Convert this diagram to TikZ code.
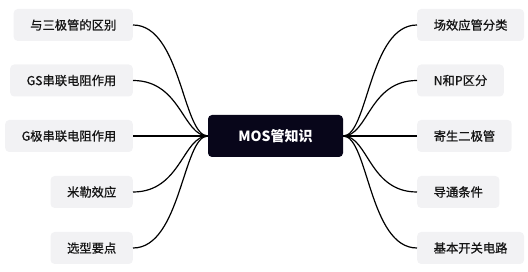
\documentclass[tikz,border=0pt]{standalone}
\usepackage{fontspec}
\setmainfont{Noto Sans CJK SC}
\newfontfamily\leaffont{Noto Sans CJK SC}[FakeBold=0.7]
\usepackage{xcolor}
\usepackage{tikz}
\usetikzlibrary{positioning}

\definecolor{leaffill}{RGB}{242,242,244}
\definecolor{rootfill}{RGB}{8,6,26}
\definecolor{leaftext}{RGB}{20,20,20}

\tikzset{
  leaf/.style={fill=leaffill,rounded corners=4pt,inner xsep=16.5pt,inner ysep=0pt,
    minimum height=32pt,text=leaftext,font=\leaffont\fontsize{12.3}{14}\selectfont},
  root/.style={fill=rootfill,rounded corners=4pt,minimum width=135pt,minimum height=42pt,
    text=white,font=\fontsize{14}{16}\selectfont\bfseries},
  link/.style={line width=1.2pt,black}
}

\begin{document}
\begin{tikzpicture}[x=1pt,y=-1pt]
\useasboundingbox (0,0) rectangle (528,272);
% centre
\node[root] (mos) at (275.5,136) {MOS管知识};
% left branches
\foreach \y/\t [count=\i] in {25/与三极管的区别,80.5/GS串联电阻作用,136/G极串联电阻作用,192/米勒效应,248/选型要点}
  \node[leaf,anchor=east] (l\i) at (133,\y) {\t};
% right branches
\foreach \y/\t [count=\i] in {25/场效应管分类,80.5/N和P区分,136/寄生二极管,192/导通条件,248/基本开关电路}
  \node[leaf,anchor=west] (r\i) at (417,\y) {\t};
% connectors
\foreach \i in {1,...,5} {
  \draw[link] (l\i.east) .. controls +(48,0) and +(-25,0) .. (mos.west);
  \draw[link] (r\i.west) .. controls +(-48,0) and +(25,0) .. (mos.east);
}
\end{tikzpicture}
\end{document}
